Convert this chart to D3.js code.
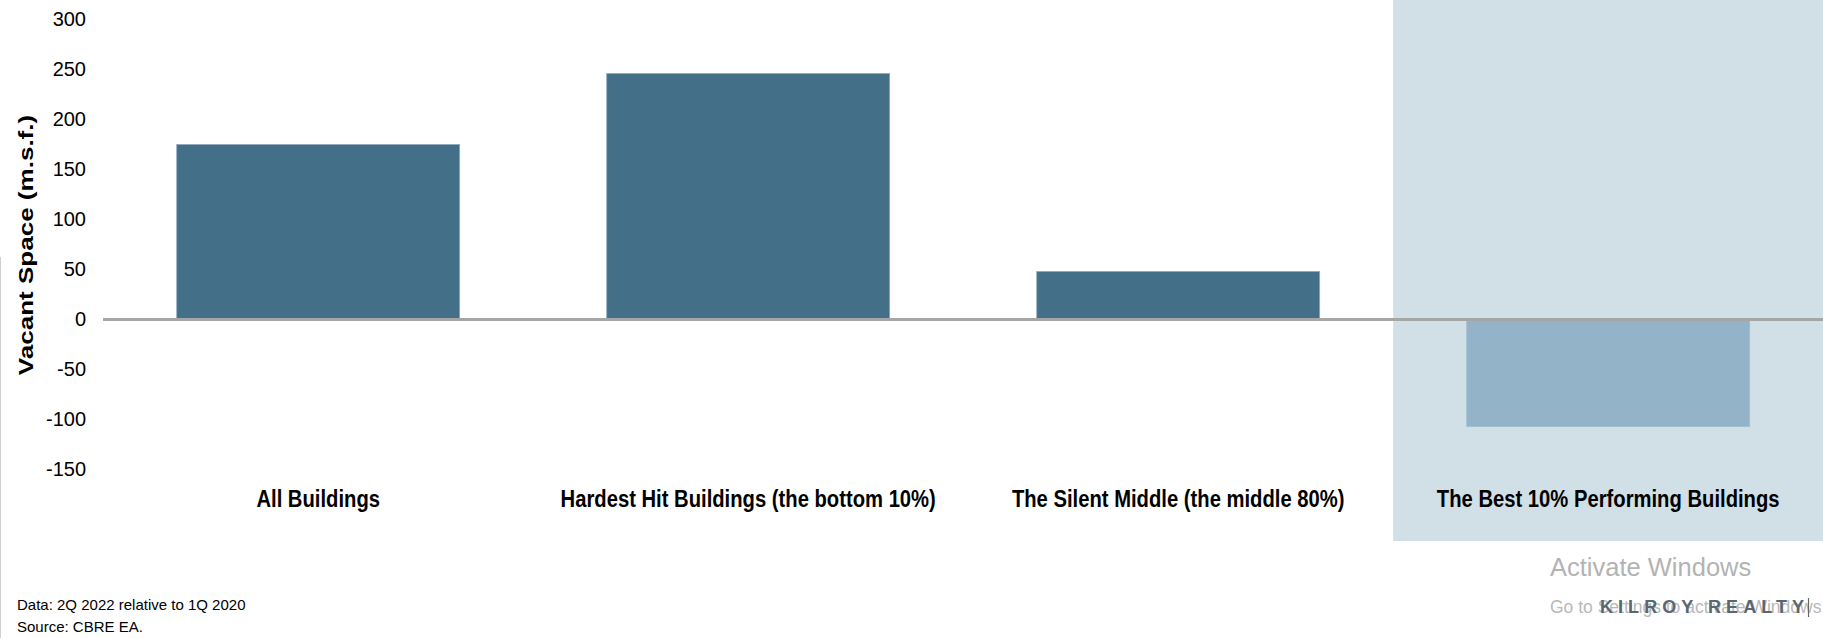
<!DOCTYPE html>
<html>
<head>
<meta charset="utf-8">
<script src="https://cdn.jsdelivr.net/npm/d3@7"></script>
<style>
  html, body { margin: 0; padding: 0; background: #ffffff; }
  svg { display: block; }
  text { font-family: "Liberation Sans", Arial, sans-serif; }
</style>
</head>
<body>
<svg id="chart" width="1823" height="638"></svg>
<script>
const categories = [
  "All Buildings",
  "Hardest Hit Buildings (the bottom 10%)",
  "The Silent Middle (the middle 80%)",
  "The Best 10% Performing Buildings"
];
const values = [175, 246, 48, -107];
const highlighted = [false, false, false, true];
const yTicks = [300, 250, 200, 150, 100, 50, 0, -50, -100, -150];
const yTitle = "Vacant Space (m.s.f.)";
const notes = ["Data: 2Q 2022 relative to 1Q 2020", "Source: CBRE EA."];

const W = 1823, H = 638;
const svg = d3.select("#chart");

const x = d3.scaleBand()
  .domain(categories)
  .range([103.2, 1823.2])
  .paddingInner(0.342)
  .paddingOuter(0.171);

const y = d3.scaleLinear()
  .domain([-150, 300])
  .range([469.5, 19.5]);

// highlighted band background
const gap = x.step() - x.bandwidth();
categories.forEach((c, i) => {
  if (highlighted[i]) {
    svg.append("rect")
      .attr("x", x(c) - gap / 2)
      .attr("y", 0)
      .attr("width", W - (x(c) - gap / 2))
      .attr("height", 541)
      .attr("fill", "#d1dfe6");
  }
});

// left faint line
svg.append("line")
  .attr("x1", 0.5).attr("x2", 0.5)
  .attr("y1", 257).attr("y2", H)
  .attr("stroke", "#cfcfcf").attr("stroke-width", 1);

// bars
svg.selectAll("rect.bar")
  .data(categories)
  .join("rect")
  .attr("class", "bar")
  .attr("x", d => x(d))
  .attr("width", x.bandwidth())
  .attr("y", (d, i) => y(Math.max(0, values[i])))
  .attr("height", (d, i) => Math.abs(y(values[i]) - y(0)))
  .attr("fill", (d, i) => highlighted[i] ? "#93b4c8" : "#436f89")
  .attr("stroke", (d, i) => highlighted[i] ? "#9dbccd" : "#8ea9bb")
  .attr("stroke-width", 0.8);

// zero line
svg.append("line")
  .attr("x1", 103).attr("x2", W)
  .attr("y1", y(0)).attr("y2", y(0))
  .attr("stroke", "#a6a6a6").attr("stroke-width", 3);

// y axis (labels only)
const yAxis = d3.axisLeft(y).tickValues(yTicks).tickSize(0).tickPadding(0)
  .tickFormat(d => String(d));
const gy = svg.append("g")
  .attr("transform", "translate(86,0)")
  .call(yAxis);
gy.select(".domain").remove();
gy.selectAll("text")
  .attr("font-size", 20)
  .attr("fill", "#000")
  .attr("font-family", "\"Liberation Sans\", Arial, sans-serif");

// y title
svg.append("text")
  .attr("transform", "translate(33,245) rotate(-90) scale(1.24,1)")
  .attr("text-anchor", "middle")
  .attr("font-size", 21)
  .attr("font-weight", "bold")
  .attr("fill", "#000")
  .text(yTitle);

// category labels
svg.selectAll("g.cat")
  .data(categories)
  .join("g")
  .attr("class", "cat")
  .attr("transform", d => `translate(${x(d) + x.bandwidth() / 2},507) scale(0.843,1)`)
  .append("text")
  .attr("text-anchor", "middle")
  .attr("font-size", 24)
  .attr("font-weight", "bold")
  .attr("fill", "#000")
  .text(d => d);

// notes
svg.selectAll("text.note")
  .data(notes)
  .join("text")
  .attr("class", "note")
  .attr("x", 17)
  .attr("y", (d, i) => 610 + i * 22)
  .attr("font-size", 15)
  .attr("fill", "#000")
  .text(d => d);

// screen watermark texts
svg.append("text")
  .attr("x", 1550).attr("y", 576)
  .attr("font-family", "\"Open Sans\", \"Noto Sans\", sans-serif")
  .attr("font-size", 25.5)
  .attr("fill", "#b3b3b3")
  .text("Activate Windows");
svg.append("text")
  .attr("x", 1550).attr("y", 613)
  .attr("font-family", "\"Open Sans\", \"Noto Sans\", sans-serif")
  .attr("font-size", 17.5)
  .attr("fill", "#b8b8b8")
  .text("Go to Settings to activate Windows.");
svg.append("text")
  .attr("x", 1600).attr("y", 613)
  .attr("font-size", 18)
  .attr("font-weight", "bold")
  .attr("fill", "#5a6670")
  .attr("textLength", 204)
  .attr("lengthAdjust", "spacing")
  .text("KILROY REALTY");
svg.append("line")
  .attr("x1", 1808.5).attr("x2", 1808.5)
  .attr("y1", 598).attr("y2", 617)
  .attr("stroke", "#666").attr("stroke-width", 1.2);
</script>
</body>
</html>
